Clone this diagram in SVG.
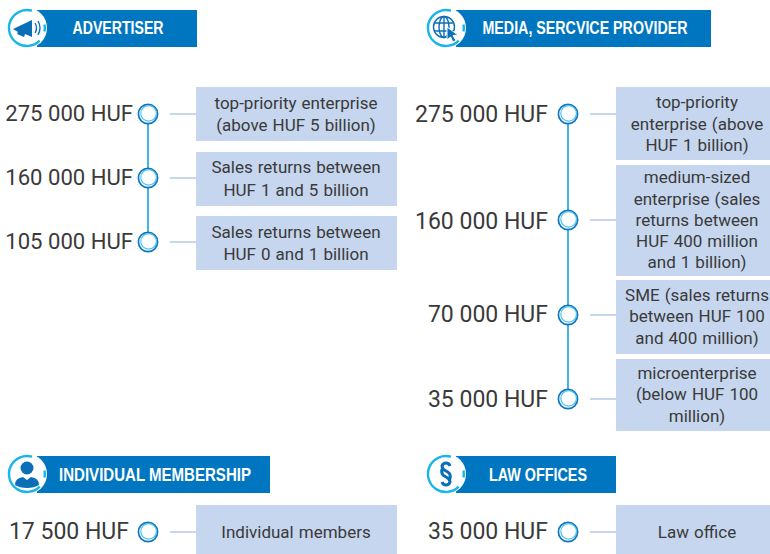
<svg xmlns="http://www.w3.org/2000/svg" width="770" height="554" viewBox="0 0 770 554">
<style>
.bar{fill:#0076c0}
.disc{fill:#fff}
.arc{fill:none;stroke:#17b5e9;stroke-width:2.4}
.gl{fill:#0b6fb8}
.glw{fill:none;stroke:#0b6fb8;stroke-width:1.4}
.hd{font-family:"Liberation Sans",Arial,sans-serif;font-weight:700;font-size:18.500px;fill:#fff;text-anchor:middle}
.pr{font-family:Roboto,"Noto Sans",sans-serif;font-size:23px;fill:#3a3a3a;text-anchor:end}
.pl{font-size:22.100px}
.bx{fill:#c5d6ee}
.lb{font-family:Roboto,"Noto Sans",sans-serif;font-size:17px;word-spacing:.8px;fill:#3a3a3a;text-anchor:middle}
.ln{stroke:#c5d6ee;stroke-width:1.8;fill:none}
.sp{stroke:#17a3dc;stroke-width:1.6;fill:none}
.o1{fill:#fff;stroke:#1176bf;stroke-width:1.700}
.o2{fill:none;stroke:#4cc3ee;stroke-width:1.2}
</style>
<defs>
<g id="dot"><circle r="9.600" class="o1"/><circle cx=".6" cy="-.6" r="7.800" class="o2"/></g>
<path id="tick" d="M0 0H26l3-2v4l-3-2" class="ln"/>
<g id="ring"><circle r="20" class="disc"/><path d="M5 -17.300A18 18 0 1 0 12.700 12.700" class="arc"/><path d="M17.500 3.500A18 18 0 0 0 17.500 -3.500" class="arc"/></g>
</defs>

<g id="connectors">
<path class="sp" d="M148 123V233"/>
<path class="sp" d="M568 123V390"/>
<use href="#tick" x="170" y="114"/>
<use href="#tick" x="170" y="178"/>
<use href="#tick" x="170" y="242"/>
<use href="#tick" x="590" y="114"/>
<use href="#tick" x="590" y="220"/>
<use href="#tick" x="590" y="315"/>
<use href="#tick" x="590" y="399"/>
<use href="#tick" x="170" y="532"/>
<use href="#tick" x="590" y="532"/>
</g>

<g id="header-advertiser">
<rect class="bar" x="37" y="10" width="160" height="37"/>
<use href="#ring" x="27" y="28"/>
<path class="gl" d="M13 29l19-9v17l-7-3-1 3-7-3 1-2z"/>
<path class="glw" d="M35 23q3 5 0 10M38 21q4 7 0 14"/>
<text class="hd" x="118" y="34" textLength="91" lengthAdjust="spacingAndGlyphs">ADVERTISER</text>
</g>
<g id="header-media">
<rect class="bar" x="456" y="10" width="255" height="37"/>
<use href="#ring" x="446" y="28"/>
<circle class="glw" cx="444" cy="27" r="10.500"/>
<ellipse class="glw" cx="444" cy="27" rx="5" ry="10.500"/>
<path class="glw" d="M434 23H454M434 31H454M444 16.500V37.500"/>
<path class="gl" d="M447 27l11 8-5 .5 3 5-3 1.500-2.500-5-3.500 3z" stroke="#fff" stroke-width="1"/>
<text class="hd" x="585" y="34" textLength="205" lengthAdjust="spacingAndGlyphs">MEDIA, SERCVICE PROVIDER</text>
</g>
<g id="header-individual">
<rect class="bar" x="37" y="456" width="233" height="37"/>
<use href="#ring" x="27" y="474"/>
<circle class="gl" cx="27" cy="468" r="6.500"/>
<path class="gl" d="M15 485q0-7 8-8l4 3 4-3q8 1 8 8-5 3-12 3t-12-3z"/>
<text class="hd" x="155" y="481" textLength="192" lengthAdjust="spacingAndGlyphs">INDIVIDUAL MEMBERSHIP</text>
</g>
<g id="header-law">
<rect class="bar" x="456" y="456" width="160" height="37"/>
<use href="#ring" x="446" y="474"/>
<path d="M450 466q-1-3-4-3t-4 3q0 3 4 5t4 4q1 3-1 5M442 482q1 3 4 3t4-3q0-3-4-5t-4-4q-1-3 1-5" fill="none" stroke="#0b6fb8" stroke-width="3"/>
<text class="hd" x="538" y="481" textLength="98" lengthAdjust="spacingAndGlyphs">LAW OFFICES</text>
</g>

<g id="adv-275">
<text class="pr pl" x="133" y="121">275 000 HUF</text><use href="#dot" x="148" y="114"/>
<rect class="bx" x="196" y="87" width="201" height="54"/>
<text class="lb" x="296" y="109">top-priority enterprise</text><text class="lb" x="296" y="131">(above HUF 5 billion)</text>
</g>
<g id="adv-160">
<text class="pr pl" x="133" y="185">160 000 HUF</text><use href="#dot" x="148" y="178"/>
<rect class="bx" x="196" y="152" width="201" height="54"/>
<text class="lb" x="296" y="173">Sales returns between</text><text class="lb" x="296" y="196">HUF 1 and 5 billion</text>
</g>
<g id="adv-105">
<text class="pr pl" x="133" y="249">105 000 HUF</text><use href="#dot" x="148" y="242"/>
<rect class="bx" x="196" y="216" width="201" height="54"/>
<text class="lb" x="296" y="238">Sales returns between</text><text class="lb" x="296" y="260">HUF 0 and 1 billion</text>
</g>

<g id="med-275">
<text class="pr" x="548" y="122">275 000 HUF</text><use href="#dot" x="568" y="114"/>
<rect class="bx" x="616" y="87" width="154" height="73"/>
<text class="lb" x="697" y="108">top-priority</text><text class="lb" x="697" y="130">enterprise (above</text><text class="lb" x="697" y="151">HUF 1 billion)</text>
</g>
<g id="med-160">
<text class="pr" x="548" y="229">160 000 HUF</text><use href="#dot" x="568" y="220"/>
<rect class="bx" x="616" y="165" width="154" height="111"/>
<text class="lb" x="697" y="183">medium-sized</text><text class="lb" x="697" y="205">enterprise (sales</text><text class="lb" x="697" y="226">returns between</text><text class="lb" x="697" y="247">HUF 400 million</text><text class="lb" x="697" y="268">and 1 billion)</text>
</g>
<g id="med-70">
<text class="pr" x="548" y="322">70 000 HUF</text><use href="#dot" x="568" y="315"/>
<rect class="bx" x="616" y="280" width="154" height="74"/>
<text class="lb" x="697" y="301">SME (sales returns</text><text class="lb" x="697" y="322">between HUF 100</text><text class="lb" x="697" y="344">and 400 million)</text>
</g>
<g id="med-35">
<text class="pr" x="548" y="407">35 000 HUF</text><use href="#dot" x="568" y="399"/>
<rect class="bx" x="616" y="359" width="154" height="72"/>
<text class="lb" x="697" y="379">microenterprise</text><text class="lb" x="697" y="400">(below HUF 100</text><text class="lb" x="697" y="422">million)</text>
</g>

<g id="ind-17">
<text class="pr" x="129" y="539">17 500 HUF</text><use href="#dot" x="148" y="532"/>
<rect class="bx" x="196" y="505" width="201" height="49"/>
<text class="lb" x="296" y="538">Individual members</text>
</g>
<g id="law-35">
<text class="pr" x="548" y="539">35 000 HUF</text><use href="#dot" x="568" y="532"/>
<rect class="bx" x="616" y="505" width="154" height="49"/>
<text class="lb" x="697" y="538">Law office</text>
</g>
</svg>
